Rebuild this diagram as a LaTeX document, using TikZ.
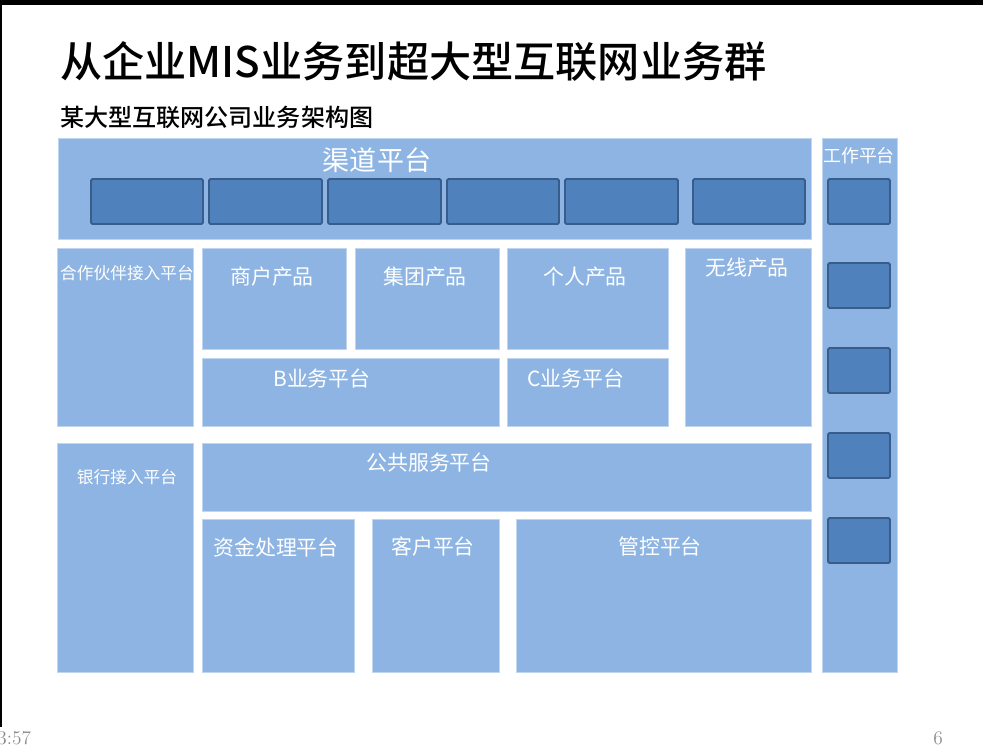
\documentclass[tikz,border=0pt]{standalone}
\usepackage{fontspec}
\newfontfamily\cjk{Noto Sans CJK SC}
\newfontfamily\cjkmid{Noto Sans CJK SC}[UprightFont={* Medium}]
\usetikzlibrary{calc}
\definecolor{platlight}{RGB}{141,180,226}
\definecolor{platdark}{RGB}{79,129,189}
\definecolor{platedge}{RGB}{56,93,138}
\tikzset{
	lightbox/.style={fill=platlight, draw=platlight!55!white, line width=0.4pt},
	darkbox/.style={fill=platdark, draw=platedge, line width=1.1pt, rounded corners=0.8pt},
	bigtext/.style={text=white, font=\cjk\fontsize{15.4}{16}\selectfont},
	boxtext/.style={text=white, font=\cjk\fontsize{11.9}{12}\selectfont},
	smalltext/.style={text=white, font=\cjk\fontsize{9.5}{10}\selectfont},
	foottext/.style={text=black!45, font=\fontsize{11}{12}\selectfont},
}

\begin{document}
\begin{tikzpicture}[x=0.02cm, y=-0.02cm]
\useasboundingbox (0,0) rectangle (983,755);
\fill[white] (0,0) rectangle (983,755);
\fill[black] (0,0) rectangle (983,5);
\fill[black] (0,5) rectangle (2,727);

% titles
\node[anchor=west, inner sep=0pt, font=\cjkmid\fontsize{24}{26}\selectfont] (title) at (60,61) {从企业MIS业务到超大型互联网业务群};
\node[anchor=west, inner sep=0pt, font=\cjkmid\fontsize{13.7}{15}\selectfont] (subtitle) at (60,117) {某大型互联网公司业务架构图};

% channel platform
\draw[lightbox] (58,138) rectangle (811,239);
\node[bigtext] (channel) at (377,160) {渠道平台};
\foreach \a/\b in {91/203,209/322,328/441,447/559,565/678,693/805}
	\draw[darkbox] (\a,179) rectangle (\b,224);

% work platform
\draw[lightbox] (822,138) rectangle (897,672);
\node[text=white, font=\cjk\fontsize{10.2}{11}\selectfont] (work) at (859,156) {工作平台};
\foreach \y in {179,263,348,433,518}
	\draw[darkbox] (828,\y) rectangle (890,\y+45);

% product row
\draw[lightbox] (57,248) rectangle (193,426);
\node[smalltext, inner sep=0pt] (partner) at (127,273) {合作伙伴接入平台};
\draw[lightbox] (202,248) rectangle (346,349);
\node[boxtext] (merchant) at (272,277) {商户产品};
\draw[lightbox] (355,248) rectangle (499,349);
\node[boxtext] (group) at (425,277) {集团产品};
\draw[lightbox] (507,248) rectangle (668,349);
\node[boxtext] (personal) at (585,277) {个人产品};
\draw[lightbox] (685,248) rectangle (811,426);
\node[boxtext] (wireless) at (747,268) {无线产品};
\draw[lightbox] (202,358) rectangle (499,426);
\node[boxtext] (bplat) at (322,378) {B业务平台};
\draw[lightbox] (507,358) rectangle (668,426);
\node[boxtext] (cplat) at (576,378) {C业务平台};

% service row
\draw[lightbox] (57,443) rectangle (193,672);
\node[smalltext] (bank) at (127,477) {银行接入平台};
\draw[lightbox] (202,443) rectangle (811,511);
\node[boxtext] (public) at (429,463) {公共服务平台};
\draw[lightbox] (202,519) rectangle (354,672);
\node[boxtext] (funds) at (276,547) {资金处理平台};
\draw[lightbox] (372,519) rectangle (499,672);
\node[boxtext] (customer) at (433,547) {客户平台};
\draw[lightbox] (516,519) rectangle (811,672);
\node[boxtext] (control) at (660,547) {管控平台};

% footer
\node[foottext, anchor=west, inner sep=0pt] (clock) at (-3,738) {3:57};
\node[foottext, inner sep=0pt] (page) at (938,738) {6};
\end{tikzpicture}
\end{document}
